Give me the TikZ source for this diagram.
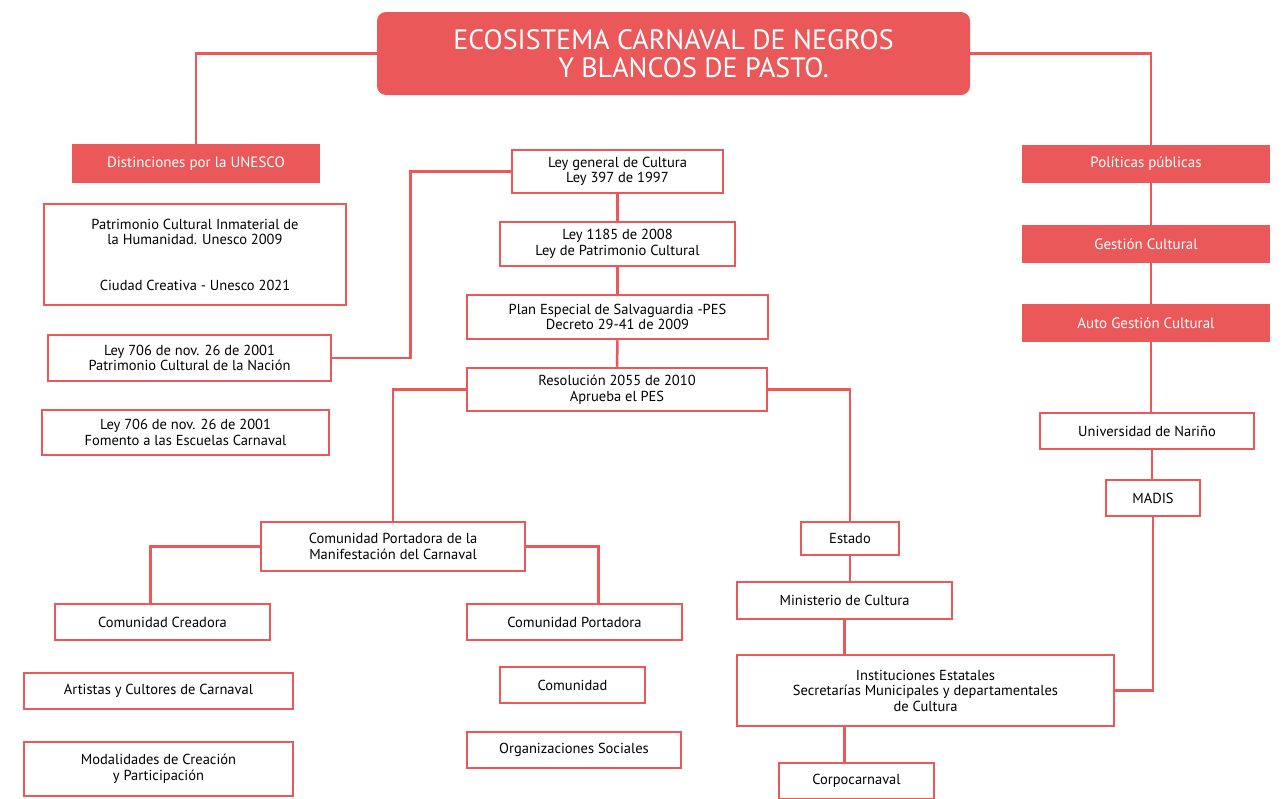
\documentclass[tikz,border=0pt]{standalone}
\usepackage{fontspec}
\setmainfont{PT Sans}
\definecolor{carnred}{RGB}{234,88,90}
\usetikzlibrary{
  calc,
  positioning,
}
\tikzset{
  box/.style={draw=carnred, line width=2.5pt, fill=white, align=center,
    inner sep=2pt, font=\fontsize{14.5}{15.5}\selectfont},
  redbox/.style={fill=carnred, text=white, align=center,
    inner sep=2pt, font=\fontsize{15}{16}\selectfont},
  link/.style={draw=carnred, line width=2.5pt},
}

\begin{document}
\begin{tikzpicture}[x=1pt, y=-1pt]
  \useasboundingbox (0,0) rectangle (1284,798);
  \fill [white] (0,0) rectangle (1284,798);

  % title
  \node [redbox, rounded corners=9pt, minimum width=593, minimum height=83,
         font=\fontsize{28}{28}\selectfont] at (673.5,53.5)
        (title) {ECOSISTEMA CARNAVAL DE NEGROS\\
                  \hspace*{40pt}Y BLANCOS DE PASTO.};

  % left column
  \node [redbox, minimum width=248, minimum height=39] at (196,163.5)
        (unesco) {Distinciones por la UNESCO};
  \node [box, minimum width=302, minimum height=101] at (195,254.5)
        (patrim) {Patrimonio Cultural Inmaterial de\\
                  la Humanidad. Unesco 2009\\[30pt]
                  Ciudad Creativa - Unesco 2021};
  \node [box, minimum width=283, minimum height=46] at (189.5,358)
        (leynac) {Ley 706 de nov. 26 de 2001\\ Patrimonio Cultural de la Nación};
  \node [box, minimum width=287, minimum height=45] at (185.5,432.5)
        (leyfom) {Ley 706 de nov. 26 de 2001\\ Fomento a las Escuelas Carnaval};

  % centre column
  \node [box, minimum width=211, minimum height=43] at (617.5,171.5)
        (leygen) {Ley general de Cultura\\ Ley 397 de 1997};
  \node [box, minimum width=235, minimum height=44] at (617.5,244)
        (leypat) {Ley 1185 de 2008\\ Ley de Patrimonio Cultural};
  \node [box, minimum width=301, minimum height=44] at (617.5,317)
        (plan) {Plan Especial de Salvaguardia -PES\\ Decreto 29-41 de 2009};
  \node [box, minimum width=300, minimum height=43] at (617,389.5)
        (resol) {Resolución 2055 de 2010\\ Aprueba el PES};

  \node [box, minimum width=264, minimum height=49] at (393,546.5)
        (portman) {Comunidad Portadora de la\\ Manifestación del Carnaval};
  \node [box, minimum width=215, minimum height=36] at (162.5,622)
        (creadora) {Comunidad Creadora};
  \node [box, minimum width=269, minimum height=36] at (158.5,691)
        (artistas) {Artistas y Cultores de Carnaval};
  \node [box, minimum width=269, minimum height=54] at (158.5,769)
        (modal) {Modalidades de Creación\\ y Participación};
  \node [box, minimum width=215, minimum height=36] at (574.5,622)
        (portadora) {Comunidad Portadora};
  \node [box, minimum width=145, minimum height=36] at (572.5,685)
        (comunidad) {Comunidad};
  \node [box, minimum width=214, minimum height=36] at (574,750)
        (orgs) {Organizaciones Sociales};

  \node [box, minimum width=98, minimum height=33] at (850,538.5)
        (estado) {Estado};
  \node [box, minimum width=215, minimum height=37] at (844.5,600.5)
        (minis) {Ministerio de Cultura};
  \node [box, minimum width=377, minimum height=71] at (925.5,690.5)
        (inst) {Instituciones Estatales\\ Secretarías Municipales y departamentales\\ de Cultura};
  \node [box, minimum width=155, minimum height=36] at (856.5,781)
        (corpo) {Corpocarnaval};

  % right column
  \node [redbox, minimum width=248, minimum height=38] at (1146,164)
        (politicas) {Políticas públicas};
  \node [redbox, minimum width=248, minimum height=38] at (1146,244)
        (gestion) {Gestión Cultural};
  \node [redbox, minimum width=248, minimum height=38] at (1146,323)
        (autog) {Auto Gestión Cultural};
  \node [box, minimum width=214, minimum height=36] at (1147,431)
        (udenar) {Universidad de Nariño};
  \node [box, minimum width=94, minimum height=36] at (1153,498)
        (madis) {MADIS};

  % connectors
  \draw [link] (title.west) -| (unesco.north);
  \draw [link] (title.east) -| ($(politicas.north)+(5,0)$);
  \draw [link] (leynac.east) -- ++(78,0) |- (leygen.west);
  \draw [link] (leygen.south) -- (leypat.north);
  \draw [link] (leypat.south) -- (plan.north);
  \draw [link] (plan.south) -- (resol.north);
  \draw [link] (resol.west) -| (portman.north);
  \draw [link] (resol.east) -| (estado.north);
  \draw [link] (portman.west) -| ($(creadora.north)+(-12,0)$);
  \draw [link] (portman.east) -| ($(portadora.north)+(24,0)$);
  \draw [link] (estado.south) -- (estado.south |- minis.north);
  \draw [link] (minis.south) -- (minis.south |- inst.north);
  \draw [link] (inst.south -| minis.south) -- (corpo.north -| minis.south);
  \draw [link] ($(politicas.south)+(5,0)$) -- ($(gestion.north)+(5,0)$);
  \draw [link] ($(gestion.south)+(5,0)$) -- ($(autog.north)+(5,0)$);
  \draw [link] ($(autog.south)+(5,0)$) -- ($(udenar.north)+(4,0)$);
  \draw [link] ($(udenar.south)+(5,0)$) -- ($(madis.north)+(-1,0)$);
  \draw [link] (inst.east) -| (madis.south);
\end{tikzpicture}
\end{document}
